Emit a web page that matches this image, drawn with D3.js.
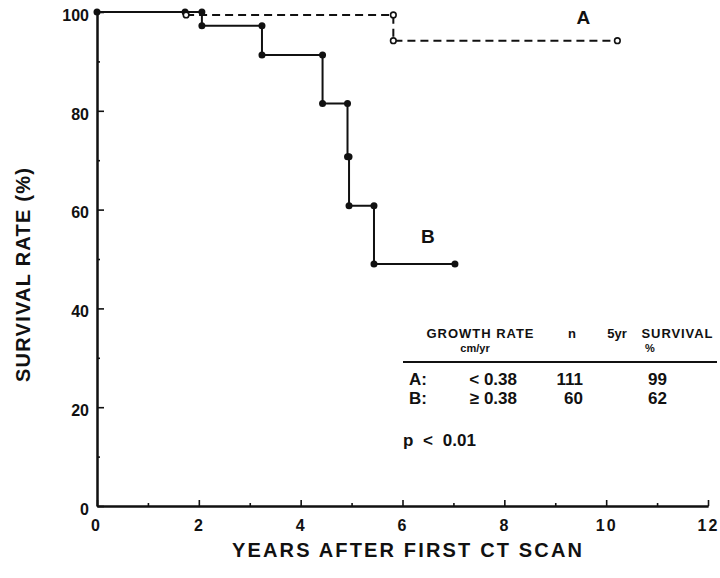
<!DOCTYPE html>
<html>
<head>
<meta charset="utf-8">
<script src="https://cdn.jsdelivr.net/npm/d3@7"></script>
<style>
  html, body { margin: 0; padding: 0; background: #fff; }
  svg { display: block; }
  text { font-family: "Liberation Sans", Arial, Helvetica, sans-serif; fill: #111; }
</style>
</head>
<body>
<div id="chart"></div>
<script>
// ---- data ----
const xMajorTicks = [0, 2, 4, 6, 8, 10, 12];
const xMinorTicks = [1, 3, 5, 7, 9, 11];
const yMajorTicks = [0, 20, 40, 60, 80, 100];
const yMinorTicks = [10, 30, 50, 70, 90];

// Group B (growth rate >= 0.38): step times (years) and survival (%) after each step
const groupBTimes    = [0,   1.73, 2.06, 3.24, 4.43, 4.92, 4.95, 5.44, 7.03];
const groupBSurvival = [100, 100,  97.2, 91.3, 81.5, 70.7, 60.8, 49.0, 49.0];

// Group A (growth rate < 0.38)
const groupATimes    = [1.75, 5.82, 10.22];
const groupASurvival = [99.4, 94.2, 94.2];
const groupAStart    = 100;

const tableGroups   = ["A:", "B:"];
const tableRates    = ["< 0.38", "\u2265 0.38"];
const tableN        = ["111", "60"];
const tableSurvival = ["99", "62"];
const pValueText    = "p < 0.01";

const seriesLabels = ["A", "B"];
const seriesLabelPos = [[9.55, 97.6], [6.5, 53.2]];

const xTitle = "YEARS  AFTER  FIRST  CT  SCAN";
const yTitle = "SURVIVAL RATE (%)";

// ---- layout ----
const W = 720, H = 578;
const svg = d3.select("#chart").append("svg").attr("width", W).attr("height", H);

const x = d3.scaleLinear().domain([0, 12]).range([97, 708]);
const y = d3.scaleLinear().domain([0, 100]).range([506, 12]);
const ink = "#111";

// axes
function styleAxis(g) {
  g.selectAll(".domain").attr("stroke", ink).attr("stroke-width", 2);
  g.selectAll(".tick line").attr("stroke", ink).attr("stroke-width", 1.6);
}
const xMinor = svg.append("g").attr("transform", `translate(0,${y(0)})`)
  .call(d3.axisBottom(x).tickValues(xMinorTicks).tickSizeInner(-3).tickSizeOuter(0).tickFormat(""));
styleAxis(xMinor);
const xMajor = svg.append("g").attr("transform", `translate(0,${y(0)})`)
  .call(d3.axisBottom(x).tickValues(xMajorTicks).tickSizeInner(-6).tickSizeOuter(0).tickPadding(14));
styleAxis(xMajor);
xMajor.selectAll(".tick text")
  .attr("font-size", 16).attr("font-weight", "bold").attr("fill", ink)
  .attr("letter-spacing", 2).attr("font-family", "Liberation Sans, Arial, sans-serif");
xMajor.select(".tick text").attr("dx", -1);

const yMinor = svg.append("g").attr("transform", `translate(${x(0)},0)`)
  .call(d3.axisLeft(y).tickValues(yMinorTicks).tickSizeInner(-3).tickSizeOuter(0).tickFormat(""));
styleAxis(yMinor);
const yMajor = svg.append("g").attr("transform", `translate(${x(0)},0)`)
  .call(d3.axisLeft(y).tickValues(yMajorTicks).tickSizeInner(-7).tickSizeOuter(0).tickPadding(8));
styleAxis(yMajor);
yMajor.selectAll(".tick text")
  .attr("font-size", 16).attr("font-weight", "bold").attr("fill", ink)
  .attr("dy", "0.52em")
  .attr("font-family", "Liberation Sans, Arial, sans-serif");

// axis titles
svg.append("text")
  .attr("x", 407).attr("y", 557).attr("text-anchor", "middle")
  .attr("font-size", 20).attr("font-weight", "bold")
  .attr("textLength", 350).attr("lengthAdjust", "spacing")
  .text(xTitle);
svg.append("text")
  .attr("transform", `translate(30,275) rotate(-90)`)
  .attr("text-anchor", "middle")
  .attr("font-size", 20).attr("font-weight", "bold")
  .attr("textLength", 214).attr("lengthAdjust", "spacing")
  .text(yTitle);

// ---- curves ----
const stepLine = d3.line().x(d => x(d[0])).y(d => y(d[1])).curve(d3.curveStepAfter);

// group A dashed
const aPts = groupATimes.map((t, i) => [t, groupASurvival[i]]);
svg.append("path")
  .datum(aPts)
  .attr("d", stepLine)
  .attr("fill", "none").attr("stroke", ink).attr("stroke-width", 2)
  .attr("stroke-dasharray", "8,5");
// A initial drop (short vertical)
svg.append("line")
  .attr("x1", x(groupATimes[0])).attr("x2", x(groupATimes[0]))
  .attr("y1", y(groupAStart)).attr("y2", y(groupASurvival[0]))
  .attr("stroke", ink).attr("stroke-width", 2);

// group B solid
const bPts = groupBTimes.map((t, i) => [t, groupBSurvival[i]]);
svg.append("path")
  .datum(bPts)
  .attr("d", stepLine)
  .attr("fill", "none").attr("stroke", ink).attr("stroke-width", 2);

// B markers: both ends of each step
const bMarks = [];
bPts.forEach((p, i) => {
  if (i > 0 && bPts[i - 1][1] !== p[1]) bMarks.push([p[0], bPts[i - 1][1]]);
  bMarks.push(p);
});
svg.append("g").selectAll("circle").data(bMarks).join("circle")
  .attr("cx", d => x(d[0])).attr("cy", d => y(d[1])).attr("r", 3.5)
  .attr("fill", ink);

// A markers
const aMarks = [];
aPts.forEach((p, i) => {
  if (i > 0 && aPts[i - 1][1] !== p[1]) aMarks.push([p[0], aPts[i - 1][1]]);
  aMarks.push(p);
});
svg.append("g").selectAll("circle").data(aMarks).join("circle")
  .attr("cx", d => x(d[0])).attr("cy", d => y(d[1])).attr("r", 2.8)
  .attr("fill", "#fff").attr("stroke", ink).attr("stroke-width", 1.6);

// series labels
svg.append("g").selectAll("text").data(seriesLabels).join("text")
  .attr("x", (d, i) => x(seriesLabelPos[i][0]))
  .attr("y", (d, i) => y(seriesLabelPos[i][1]))
  .attr("text-anchor", "middle")
  .attr("font-size", 19).attr("font-weight", "bold")
  .text(d => d);

// ---- table ----
const tbl = svg.append("g");
function t(xp, yp, s, size, anchor) {
  return tbl.append("text").attr("x", xp).attr("y", yp).attr("font-size", size)
    .attr("font-weight", "bold").attr("text-anchor", anchor || "start").text(s);
}
t(480, 337.5, "GROWTH RATE", 13, "middle").attr("textLength", 107).attr("lengthAdjust", "spacing");
t(475, 352, "cm/yr", 11, "middle");
t(572, 337.5, "n", 13, "middle");
t(617, 337.5, "5yr", 13, "middle");
t(677, 337.5, "SURVIVAL", 13, "middle").attr("textLength", 71).attr("lengthAdjust", "spacing");
t(650, 352, "%", 11, "middle");
tbl.append("line").attr("x1", 403).attr("x2", 717).attr("y1", 362).attr("y2", 362)
  .attr("stroke", ink).attr("stroke-width", 2);

const rowY = [385, 404];
tableGroups.forEach((g, i) => {
  t(409, rowY[i], g, 17, "start");
  t(517, rowY[i], tableRates[i], 17, "end");
  t(583, rowY[i], tableN[i], 17, "end");
  t(667, rowY[i], tableSurvival[i], 17, "end");
});
t(403, 446, pValueText, 17, "start").attr("word-spacing", 5);
</script>
</body>
</html>
